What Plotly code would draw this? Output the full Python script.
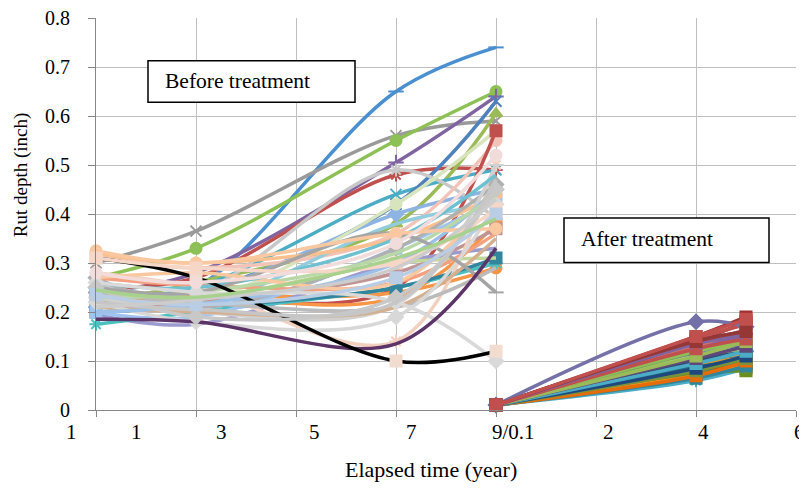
import plotly.graph_objects as go

# ---------------- data ----------------
# x positions (chart units) of the survey points
before_t = [0, 1, 3, 4]
after_t = [4, 6, 6.5]

# rut depth (inch) before treatment, one value per series at each survey
before_y0 = [0.21, 0.30, 0.27, 0.24, 0.25, 0.22, 0.23, 0.22, 0.25, 0.26, 0.24, 0.32, 0.24, 0.23,
             0.22, 0.21, 0.195, 0.175, 0.20, 0.23, 0.20, 0.28, 0.32, 0.27, 0.25, 0.24, 0.23, 0.27,
             0.21, 0.22, 0.20, 0.23, 0.27, 0.26, 0.25, 0.26, 0.185, 0.31, 0.325, 0.31, 0.25,
             0.22, 0.235, 0.21, 0.245, 0.28]
before_y1 = [0.25, 0.365, 0.33, 0.28, 0.27, 0.26, 0.25, 0.24, 0.24, 0.24, 0.22, 0.29, 0.23, 0.23,
             0.23, 0.22, 0.175, 0.20, 0.21, 0.21, 0.19, 0.25, 0.30, 0.21, 0.23, 0.22, 0.20, 0.255,
             0.20, 0.18, 0.215, 0.24, 0.28, 0.25, 0.24, 0.24, 0.18, 0.27, 0.30, 0.29, 0.19,
             0.205, 0.215, 0.225, 0.23, 0.26]
before_y3 = [0.65, 0.56, 0.55, 0.505, 0.48, 0.38, 0.44, 0.42, 0.40, 0.49, 0.42, 0.36, 0.25, 0.23,
             0.24, 0.28, 0.30, 0.25, 0.25, 0.38, 0.33, 0.14, 0.35, 0.33, 0.30, 0.21, 0.215, 0.26,
             0.21, 0.19, 0.30, 0.32, 0.26, 0.35, 0.36, 0.22, 0.135, 0.10, 0.36, 0.30, 0.23,
             0.22, 0.27, 0.29, 0.31, 0.34]
before_y4 = [0.74, 0.59, 0.65, 0.64, 0.49, 0.605, 0.49, 0.63, 0.45, 0.39, 0.57, 0.55, 0.57, 0.38,
             0.29, 0.37, 0.33, 0.30, 0.31, 0.42, 0.43, 0.50, 0.44, 0.46, 0.31, 0.29, 0.50, 0.36,
             0.35, 0.42, 0.45, 0.44, 0.45, 0.48, 0.24, 0.10, 0.33, 0.12, 0.37, 0.41, 0.45,
             0.47, 0.40, 0.43, 0.39, 0.52]

# rut depth (inch) after treatment
after_y0 = [0.01] * 36
after_y2 = [0.06, 0.075, 0.08, 0.085, 0.09, 0.10, 0.09, 0.095, 0.105, 0.10, 0.115, 0.11, 0.12,
            0.125, 0.12, 0.13, 0.13, 0.14, 0.145, 0.15, 0.14, 0.12, 0.075, 0.07, 0.18,
            0.065, 0.07, 0.08, 0.085, 0.095, 0.105, 0.11, 0.125, 0.135, 0.14, 0.15]
after_y3 = [0.085, 0.095, 0.10, 0.085, 0.12, 0.115, 0.11, 0.105, 0.12, 0.13, 0.135, 0.125, 0.15,
            0.135, 0.14, 0.15, 0.165, 0.18, 0.175, 0.19, 0.16, 0.14, 0.08, 0.09, 0.17,
            0.09, 0.10, 0.105, 0.11, 0.12, 0.13, 0.14, 0.145, 0.155, 0.16, 0.185]

tick_text = ["1", "1", "3", "5", "7", "9/0.1", "2", "4", "6"]
tick_pos = [-0.25, 0.40, 1.25, 2.18, 3.15, 4.17, 5.12, 6.07, 7.03]

# ---------------- styles ----------------
before_colors = ["#4A8FD0", "#9A9A9A", "#8DC055", "#8064A2", "#C0504D", "#9BBB59", "#4BACC6",
                 "#4F81BD", "#8DB4E2", "#C8C8C8", "#D8E4BC", "#F2C4B8", "#C0504D", "#F79646",
                 "#F79646", "#C09494", "#9B9BD0", "#4BC0C0", "#31859C", "#93CDDD", "#A0C4F0",
                 "#F2D0C0", "#FAC090", "#B0B0B0", "#C3D69B", "#BBBBBB", "#D0D0D0", "#F4A080",
                 "#D4B090", "#D8D8D8", "#9CC0E8", "#B8D8A8", "#F8C8A0", "#6FC0D0", "#A5A5A5",
                 "#D9D9D9", "#5C3468", "#000000", "#FAC8A0", "#F6D6C6", "#C8C8C8",
                 "#C6C6C6", "#B9CDE5", "#CCCCCC", "#A9D18E", "#F2DCDB"]
before_marker_colors = {37: "#F2DCCF"}
before_symbols = ["line-ew", "x-thin", "circle", "cross-thin", "asterisk", "triangle-up", "x-thin",
                  "x-thin", "diamond", "asterisk", "circle", "circle", "square", "square",
                  "circle", "square", None, "asterisk", "square", None, "square",
                  "asterisk", "circle", "diamond", None, None, "line-ew", None,
                  None, "diamond", None, None, None, None, "line-ew",
                  "diamond", None, "square", "circle", "square", "diamond",
                  None, "square", None, None, "circle"]

after_colors = ["#4BACC6", "#5F7530", "#4472C4", "#B65708", "#3060C0", "#F79646", "#276A7C",
                "#D19A2E", "#2CA0B0", "#2C4D75", "#4F81BD", "#AFC97A", "#70AD47", "#9BBB59",
                "#9983B5", "#8064A2", "#CD7371", "#943634", "#C0504D", "#A03030", "#5F3C6E",
                "#8DC055", "#6B8E23", "#F7941D", "#7470A8",
                "#31859C", "#E46C0A", "#77933C", "#1F497D", "#4BACC6", "#60497A",
                "#9BBB59", "#C0504D", "#8064A2", "#953735", "#C0504D"]
after_symbols = ["asterisk", "square", "square", "square", "cross-thin", "square", "square",
                 "square", "square", "square", "square", "square", "square", "square",
                 "square", "x-thin", "square", "square", "square", "square", "triangle-up",
                 None, "square", "circle", "diamond",
                 "square", "square", "square", "square", "square", "square",
                 "square", "square", "x-thin", "square", "square"]

X_MIN, X_MAX = 0, 7

fig = go.Figure()


def add_series(xs, ys, color, symbol, mcolor=None):
    mcolor = mcolor or color
    mode = "lines+markers" if symbol else "lines"
    marker = dict(size=11, color=mcolor, symbol=symbol or "circle",
                  line=dict(color=mcolor, width=2))
    fig.add_trace(go.Scatter(x=xs, y=ys, mode=mode,
                             line=dict(color=color, width=3.5, shape="spline", smoothing=1.0),
                             marker=marker, showlegend=False, hoverinfo="skip",
                             cliponaxis=False))


for i in range(len(before_y0)):
    ys = [before_y0[i], before_y1[i], before_y3[i], before_y4[i]]
    add_series(before_t, ys, before_colors[i], before_symbols[i], before_marker_colors.get(i))

for i in range(len(after_y0)):
    ys = [after_y0[i], after_y2[i], after_y3[i]]
    add_series(after_t, ys, after_colors[i], after_symbols[i])

serif = "Liberation Serif, Times New Roman, serif"
axis_grey = "#868686"
grid_grey = "#BFBFBF"

# the page body adds an 8px margin, so the figure is sized/offset to sit inside the window
fig.update_layout(
    width=799, height=474,
    margin=dict(l=88, r=11, t=10, b=72),
    paper_bgcolor="white", plot_bgcolor="white",
    font=dict(family=serif, size=20, color="black"),
    xaxis=dict(range=[X_MIN, X_MAX], tickvals=list(range(8)), showticklabels=False,
               showgrid=True, gridcolor=grid_grey, gridwidth=1,
               showline=True, linecolor=axis_grey, linewidth=1,
               ticks="outside", ticklen=6, tickcolor=axis_grey, zeroline=False,
               automargin=False),
    yaxis=dict(range=[0, 0.8], dtick=0.1, tick0=0,
               showgrid=True, gridcolor=grid_grey, gridwidth=1,
               showline=True, linecolor=axis_grey, linewidth=1,
               ticks="outside", ticklen=7, tickcolor=axis_grey, zeroline=False,
               ticklabelstandoff=14, automargin=False, ticklabeloverflow="allow",
               tickfont=dict(family=serif, size=20, color="black")),
)

# category-style tick labels under the x axis (paper coords so edge labels stay visible)
for txt, pos in zip(tick_text, tick_pos):
    fig.add_annotation(x=(pos - X_MIN) / (X_MAX - X_MIN), xref="paper", y=-0.056, yref="paper",
                       text=txt, showarrow=False, xanchor="center", yanchor="middle",
                       font=dict(family=serif, size=21, color="black"))

fig.add_annotation(x=3.35 / 7, xref="paper", y=-0.152, yref="paper", text="Elapsed time (year)",
                   showarrow=False, xanchor="center", yanchor="middle",
                   font=dict(family=serif, size=22, color="black"))
fig.add_annotation(x=-0.108, xref="paper", y=0.60, yref="paper", text="Rut depth (inch)",
                   showarrow=False, textangle=-90, xanchor="center", yanchor="middle",
                   font=dict(family=serif, size=19, color="black"))

# text boxes
fig.add_shape(type="rect", xref="x", yref="y", x0=0.52, x1=2.59, y0=0.628, y1=0.713,
              line=dict(color="black", width=1.5), fillcolor="white", layer="above")
fig.add_annotation(x=0.67, xref="x", y=0.672, yref="y", text="Before treatment",
                   showarrow=False, xanchor="left", yanchor="middle",
                   font=dict(family=serif, size=21.5, color="black"))
fig.add_shape(type="rect", xref="x", yref="y", x0=4.68, x1=6.73, y0=0.301, y1=0.392,
              line=dict(color="black", width=1.5), fillcolor="white", layer="above")
fig.add_annotation(x=4.83, xref="x", y=0.348, yref="y", text="After treatment",
                   showarrow=False, xanchor="left", yanchor="middle",
                   font=dict(family=serif, size=21.5, color="black"))

fig.write_html("out.html")
